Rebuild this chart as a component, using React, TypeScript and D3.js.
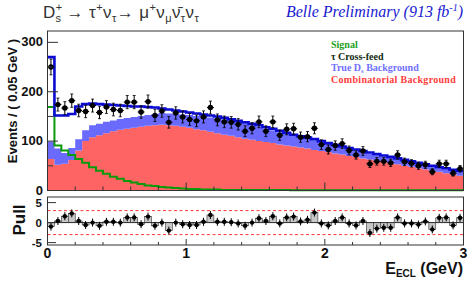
import React, { useRef, useEffect } from 'react';
import * as d3 from 'd3';

// E_ECL histogram, 60 bins of 0.05 GeV from 0 to 3 GeV
const dataCounts = [
  250, 174, 167, 182, 162, 160, 172, 158, 169, 164,
  162, 179, 179, 159, 180, 152, 161, 138, 157, 149,
  144, 141, 149, 168, 143, 139, 138, 134, 120, 126,
  139, 120, 139, 112, 124, 125, 108, 109, 126, 93,
  83, 91, 95, 81, 72, 80, 54, 59, 59, 56,
  72, 58, 55, 50, 52, 38, 54, 54, 35, 44,
];

const fitTotal = [
  270, 152, 152, 155, 170, 175, 176, 175, 174, 173,
  172, 171, 170, 170, 169, 168, 166, 164, 162, 160,
  158, 156, 154, 152, 150, 147, 144, 141, 138, 135,
  132, 128, 125, 121, 117, 113, 110, 107, 104, 100,
  96, 92, 89, 86, 83, 80, 77, 74, 71, 68,
  65, 62, 59, 56, 53, 50, 47, 45, 42, 40,
];

const combBkg = [
  64, 52, 54, 62, 81, 100, 108, 112, 116, 120,
  123, 125, 127, 129, 131, 132, 133, 132, 131, 129,
  127, 124, 122, 119, 116, 113, 111, 108, 105, 103,
  100, 98, 96, 93, 91, 89, 87, 85, 82, 80,
  78, 75, 73, 70, 68, 65, 63, 60, 58, 55,
  53, 50, 48, 45, 43, 40, 38, 35, 33, 30,
];

const trueDsBkg = [
  35, 33, 22, 24, 23, 22, 24, 23, 23, 22,
  22, 22, 22, 22, 22, 23, 24, 24, 24, 25,
  26, 27, 28, 29, 30, 31, 30, 30, 30, 29,
  29, 27, 26, 25, 24, 22, 21, 20, 20, 18,
  16, 15, 14, 14, 13, 13, 12, 12, 11, 11,
  10, 10, 9, 9, 8, 8, 7, 8, 7, 8,
];

const signal = [
  169, 91, 81, 72, 64, 56, 47, 40, 34, 28,
  24, 19, 16, 13, 10, 9, 7, 6, 5, 4,
  3, 3, 2, 2, 2, 1, 1, 1, 1, 1,
  1, 1, 1, 1, 1, 0.5, 0.5, 0.5, 0.5, 0.5,
  0.5, 0.5, 0.5, 0.5, 0.5, 0.5, 0.5, 0.5, 0.5, 0.5,
  0.5, 0.5, 0.5, 0.5, 0.5, 0.5, 0.5, 0.5, 0.5, 0.5,
];

const pulls = [
  -1.0, 0.4, 1.6, 2.3, 0.4, -0.6, 0, -0.8, 0.2, 0.2,
  0, 1.3, 1.3, -0.4, 1.5, -0.8, 0, -2.0, 0, -0.4,
  -0.6, -0.6, 0.2, 1.9, 0.2, 0.2, 0.1, -0.2, -0.8, 0,
  1.1, 0.4, 1.6, -0.2, 1.3, 1.5, 0.3, 0.7, 2.5, -0.2,
  -0.7, 0.4, 1.3, -0.2, -0.7, 0.4, -2.6, -1.5, -1.3, -1.3,
  1.3, -0.2, -0.2, -0.5, 0.3, -1.7, 1.2, 1.3, -0.7, 1.2,
];

const xTickLabels = [0, 1, 2, 3];
const yMainTicks = [0, 100, 200, 300];
const yMainMinor = [50, 150, 250];
const yPullTicks = [-5, 0, 5];
const pullBands = [-3, 3];

const BIN = 0.05;
const W = 473;
const H = 281;

const App = () => {
  const svgRef = useRef(null);

  useEffect(() => {
    const svg = d3.select(svgRef.current);
    svg.selectAll('*').remove();

    const x = d3.scaleLinear().domain([0, 3]).range([47.5, 463.5]);
    const y = d3.scaleLinear().domain([0, 323]).range([190.5, 31]);
    const yp = d3.scaleLinear().domain([-5.6, 6.4]).range([245, 197]);

    const rows = dataCounts.map((n, i) => ({
      lo: i * BIN, hi: (i + 1) * BIN, n,
      comb: combBkg[i], trueDs: trueDsBkg[i], total: fitTotal[i], sig: signal[i], pull: pulls[i],
    }));

    // stacked backgrounds (step areas)
    const stack = d3.stack().keys(['comb', 'trueDs'])(rows);
    const colors = ['#ff6464', '#6a6aff'];
    const area = d3.area()
      .x(d => x(d[0]))
      .y0(d => y(d[1]))
      .y1(d => y(d[2]));
    stack.forEach((layer, k) => {
      const pts = layer.flatMap((s, i) => [[rows[i].lo, s[0], s[1]], [rows[i].hi, s[0], s[1]]]);
      svg.append('path').attr('d', area(pts)).attr('fill', colors[k]);
    });

    const stepLine = d3.line().x(d => x(d[0])).y(d => y(d[1]));
    const steps = key => rows.flatMap(r => [[r.lo, r[key]], [r.hi, r[key]]]);

    svg.append('path').attr('d', stepLine(steps('sig')))
      .attr('fill', 'none').attr('stroke', '#0a9a0a').attr('stroke-width', 2);
    svg.append('path').attr('d', stepLine(steps('total')))
      .attr('fill', 'none').attr('stroke', '#0a0ad0').attr('stroke-width', 2.6);

    // data points
    const pts = svg.append('g');
    rows.forEach(r => {
      const cx = x((r.lo + r.hi) / 2);
      const e = Math.sqrt(r.n);
      pts.append('line').attr('x1', x(r.lo)).attr('x2', x(r.hi)).attr('y1', y(r.n)).attr('y2', y(r.n))
        .attr('stroke', '#000').attr('stroke-width', 1);
      pts.append('line').attr('x1', cx).attr('x2', cx).attr('y1', y(r.n - e)).attr('y2', y(r.n + e))
        .attr('stroke', '#000').attr('stroke-width', 1);
      [r.n - e, r.n + e].forEach(v => pts.append('line')
        .attr('x1', cx - 1.5).attr('x2', cx + 1.5).attr('y1', y(v)).attr('y2', y(v))
        .attr('stroke', '#000').attr('stroke-width', 0.8));
      pts.append('circle').attr('cx', cx).attr('cy', y(r.n)).attr('r', 2.7).attr('fill', '#000');
    });

    // main frame + ticks
    const axisCol = '#333';
    svg.append('rect').attr('x', 47.5).attr('y', 31).attr('width', 416).attr('height', 159.5)
      .attr('fill', 'none').attr('stroke', axisCol).attr('stroke-width', 1);
    yMainTicks.forEach(t => svg.append('line').attr('x1', 47.5).attr('x2', 58).attr('y1', y(t)).attr('y2', y(t))
      .attr('stroke', axisCol));
    yMainMinor.forEach(t => svg.append('line').attr('x1', 47.5).attr('x2', 53).attr('y1', y(t)).attr('y2', y(t))
      .attr('stroke', axisCol));
    const xMinor = d3.range(0, 3.001, 0.2);
    xMinor.forEach(t => {
      const major = Math.abs(t - Math.round(t)) < 1e-6;
      svg.append('line').attr('x1', x(t)).attr('x2', x(t)).attr('y1', 190.5).attr('y2', 190.5 - (major ? 8 : 4))
        .attr('stroke', axisCol);
      svg.append('line').attr('x1', x(t)).attr('x2', x(t)).attr('y1', 245).attr('y2', 245 - (major ? 6 : 3))
        .attr('stroke', axisCol);
    });

    const bold = { 'font-family': 'Liberation Sans, Arial, sans-serif', 'font-weight': 'bold', fill: '#111' };
    const setAttrs = (sel, o) => { Object.entries(o).forEach(([k, v]) => sel.attr(k, v)); return sel; };

    yMainTicks.forEach(t => setAttrs(svg.append('text'), bold)
      .attr('x', 43).attr('y', y(t) + 4).attr('text-anchor', 'end').attr('font-size', 13).text(t));

    setAttrs(svg.append('text'), bold)
      .attr('transform', 'translate(17,101) rotate(-90)').attr('text-anchor', 'middle')
      .attr('font-size', 13).text('Events / ( 0.05 GeV )');

    // pull panel
    const pg = svg.append('g');
    rows.forEach(r => {
      pg.append('rect').attr('x', x(r.lo)).attr('width', x(r.hi) - x(r.lo))
        .attr('y', Math.min(yp(0), yp(r.pull))).attr('height', Math.abs(yp(r.pull) - yp(0)))
        .attr('fill', '#c8c8c8').attr('stroke', '#333').attr('stroke-width', 0.6);
    });
    pg.append('line').attr('x1', x(0)).attr('x2', x(3)).attr('y1', yp(0)).attr('y2', yp(0))
      .attr('stroke', '#222').attr('stroke-width', 0.8);
    pullBands.forEach(b => pg.append('line').attr('x1', x(0)).attr('x2', x(3)).attr('y1', yp(b)).attr('y2', yp(b))
      .attr('stroke', '#ff2020').attr('stroke-width', 0.9).attr('stroke-dasharray', '3,2.5'));
    rows.forEach(r => {
      const cx = x((r.lo + r.hi) / 2);
      pg.append('line').attr('x1', x(r.lo) + 1).attr('x2', x(r.hi) - 1).attr('y1', yp(r.pull)).attr('y2', yp(r.pull))
        .attr('stroke', '#000').attr('stroke-width', 1);
      pg.append('line').attr('x1', cx).attr('x2', cx).attr('y1', yp(r.pull - 1)).attr('y2', yp(r.pull + 1))
        .attr('stroke', '#000').attr('stroke-width', 1);
      pg.append('circle').attr('cx', cx).attr('cy', yp(r.pull)).attr('r', 2.2).attr('fill', '#000');
    });
    svg.append('rect').attr('x', 47.5).attr('y', 197).attr('width', 416).attr('height', 48)
      .attr('fill', 'none').attr('stroke', axisCol).attr('stroke-width', 1);
    yPullTicks.forEach(t => {
      svg.append('line').attr('x1', 47.5).attr('x2', 56).attr('y1', yp(t)).attr('y2', yp(t)).attr('stroke', axisCol);
      setAttrs(svg.append('text'), bold).attr('x', 42).attr('y', yp(t) + 4.5).attr('text-anchor', 'end')
        .attr('font-size', 11.5).text(t);
    });
    setAttrs(svg.append('text'), bold)
      .attr('transform', 'translate(25,220) rotate(-90)').attr('text-anchor', 'middle')
      .attr('font-size', 17).text('Pull');

    xTickLabels.forEach(t => setAttrs(svg.append('text'), bold)
      .attr('x', x(t)).attr('y', 258).attr('text-anchor', 'middle').attr('font-size', 14).text(t));

    const xl = setAttrs(svg.append('text'), bold).attr('x', 463).attr('y', 274).attr('text-anchor', 'end')
      .attr('font-size', 16);
    xl.append('tspan').text('E');
    xl.append('tspan').attr('font-size', 10).attr('dy', 3).text('ECL');
    xl.append('tspan').attr('dy', -3).text(' (GeV)');

    // title
    const tt = svg.append('text').attr('x', 43).attr('y', 18)
      .attr('font-family', 'Liberation Sans, Arial, sans-serif').attr('font-size', 17).attr('fill', '#333')
      .attr('letter-spacing', 0.4);
    tt.append('tspan').text('D');
    tt.append('tspan').attr('font-size', 11).attr('dy', -7).text('+');
    tt.append('tspan').attr('font-size', 11).attr('dx', -7).attr('dy', 11).text('s');
    tt.append('tspan').attr('dy', -4).text(' \u2192 \u03c4');
    tt.append('tspan').attr('font-size', 11).attr('dy', -7).text('+');
    tt.append('tspan').attr('dy', 7).text('\u03bd');
    tt.append('tspan').attr('font-size', 11).attr('dy', 4).text('\u03c4');
    tt.append('tspan').attr('dy', -4).text('\u2192 \u03bc');
    tt.append('tspan').attr('font-size', 11).attr('dy', -7).text('+');
    tt.append('tspan').attr('dy', 7).text('\u03bd');
    tt.append('tspan').attr('font-size', 11).attr('dy', 4).text('\u03bc');
    tt.append('tspan').attr('dy', -4).text('\u03bd\u0304');
    tt.append('tspan').attr('font-size', 11).attr('dy', 4).text('\u03c4');
    tt.append('tspan').attr('dy', -4).text('\u03bd');
    tt.append('tspan').attr('font-size', 11).attr('dy', 4).text('\u03c4');

    const bt = svg.append('text').attr('x', 463).attr('y', 17).attr('text-anchor', 'end')
      .attr('font-family', 'Liberation Serif, Times New Roman, serif').attr('font-style', 'italic')
      .attr('font-size', 16).attr('fill', '#1a1ad0');
    bt.append('tspan').text('Belle Preliminary (913 fb');
    bt.append('tspan').attr('font-size', 10).attr('dy', -6).text('-1');
    bt.append('tspan').attr('dy', 6).text(')');

    // legend
    const lg = svg.append('g').attr('font-family', 'Liberation Serif, Times New Roman, serif')
      .attr('font-weight', 'bold').attr('font-size', 10);
    lg.append('text').attr('x', 331).attr('y', 48).attr('fill', '#1ea01e').text('Signal');
    lg.append('text').attr('x', 331).attr('y', 59.5).attr('fill', '#0f2a0f').text('\u03c4 Cross-feed');
    const td = lg.append('text').attr('x', 331).attr('y', 71).attr('fill', '#7070ff');
    td.append('tspan').text('True D');
    td.append('tspan').attr('font-size', 6.5).attr('dy', 1.5).text('s');
    td.append('tspan').attr('dy', -1.5).text(' Background');
    lg.append('text').attr('x', 331).attr('y', 82.5).attr('fill', '#ff3c3c').attr('letter-spacing', 0.3)
      .text('Combinatorial Background');
  }, []);

  return (
    <svg ref={svgRef} width={W} height={H}
      style={{ position: 'absolute', left: 0, top: 0, background: '#fff' }} />
  );
};

export default App;
